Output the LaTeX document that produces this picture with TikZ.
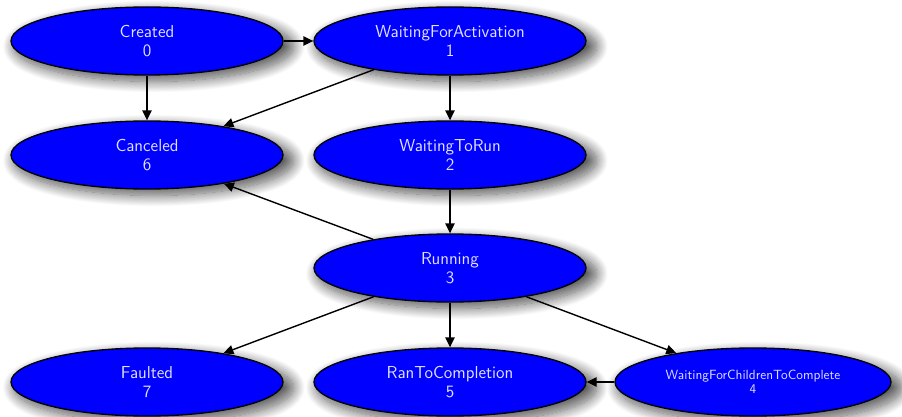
\documentclass[tikz,border=0pt]{standalone}
\usetikzlibrary{shapes.geometric,arrows.meta,shadows.blur}
\definecolor{labeltext}{RGB}{225,225,255}
\begin{document}
\begin{tikzpicture}[x=0.75pt,y=-0.75pt,
  state/.style={ellipse, draw=black, line width=1pt, fill=blue,
    minimum width=204pt, minimum height=51pt, inner sep=0pt,
    text=labeltext, align=center,
    font=\sffamily\fontsize{13}{14}\selectfont,
    blur shadow={shadow xshift=5pt, shadow yshift=-4pt, shadow scale=1.03,
      shadow blur radius=8pt, shadow blur steps=16, shadow opacity=65}},
  conn/.style={-{Triangle[length=7.5pt,width=7pt]}, line width=1.05pt}
]
\useasboundingbox (0,0) rectangle (902,417);

% task states
\node[state] (created) at (147,41)  {Created\\0};
\node[state] (wfa)     at (450,41)  {WaitingForActivation\\1};
\node[state] (cancel)  at (147,155) {Canceled\\6};
\node[state] (wtr)     at (450,155) {WaitingToRun\\2};
\node[state] (run)     at (450,268) {Running\\3};
\node[state] (fault)   at (147,382) {Faulted\\7};
\node[state] (rtc)     at (450,382) {RanToCompletion\\5};
\node[state, minimum width=207pt,
      font=\sffamily\fontsize{10}{10.5}\selectfont]
               (wfc)   at (753,382) {WaitingForChildrenToComplete\\4};

% transitions
\draw[conn] (created) -- (wfa);
\draw[conn] (created) -- (cancel);
\draw[conn] (wfa) -- (cancel);
\draw[conn] (wfa) -- (wtr);
\draw[conn] (wtr) -- (run);
\draw[conn] (run) -- (cancel);
\draw[conn] (run) -- (fault);
\draw[conn] (run) -- (rtc);
\draw[conn] (run) -- (wfc);
\draw[conn] (wfc) -- (rtc);
\end{tikzpicture}
\end{document}
